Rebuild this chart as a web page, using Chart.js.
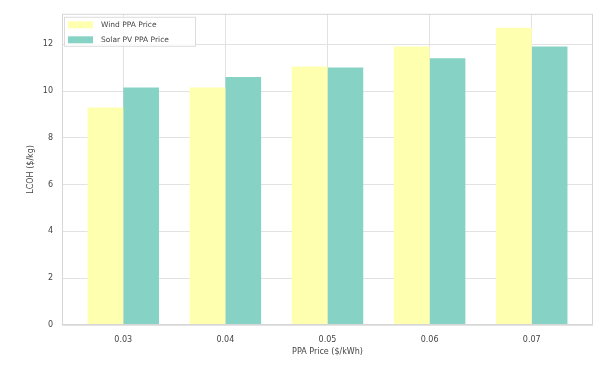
<!DOCTYPE html>
<html>
<head>
<meta charset="utf-8">
<script src="https://cdn.jsdelivr.net/npm/chart.js@4.4.1/dist/chart.umd.min.js"></script>
<style>
html,body{margin:0;padding:0;background:#fff;}
#wrap{width:605px;height:367px;position:relative;}
</style>
</head>
<body>
<div id="wrap"><canvas id="c" width="605" height="367"></canvas></div>
<script>
const categories = ["0.03", "0.04", "0.05", "0.06", "0.07"];
const windValues = [9.3, 10.15, 11.05, 11.9, 12.7];
const solarValues = [10.15, 10.6, 11.0, 11.4, 11.9];
const yTicks = [0, 2, 4, 6, 8, 10, 12];
const seriesNames = ["Wind PPA Price", "Solar PV PPA Price"];

const FONT = "'DejaVu Sans', sans-serif";
const TXT = '#444';

const framePlugin = {
  id: 'frame',
  afterDraw(chart) {
    const {ctx, chartArea: a} = chart;
    ctx.save();
    ctx.strokeStyle = '#d6d6d6';
    ctx.lineWidth = 1;
    ctx.strokeRect(a.left + 0.5, a.top + 0.5, a.right - a.left - 1, a.bottom - a.top - 1);
    // legend (inside plot, upper left)
    const lx = a.left + 2, ly = a.top + 3, lw = 131, lh = 29;
    ctx.fillStyle = 'rgba(255,255,255,0.85)';
    ctx.fillRect(lx, ly, lw, lh);
    ctx.strokeStyle = '#dcdcdc';
    ctx.strokeRect(lx + 0.5, ly + 0.5, lw, lh);
    ctx.font = "7.5px " + FONT;
    ctx.textBaseline = 'middle';
    chart.data.datasets.forEach((ds, i) => {
      const cy = ly + 8 + i * 15;
      ctx.fillStyle = ds.backgroundColor;
      ctx.fillRect(lx + 4, cy - 3.5, 25, 7);
      ctx.fillStyle = TXT;
      ctx.fillText(ds.label, lx + 37, cy);
    });
    ctx.restore();
  }
};

new Chart(document.getElementById('c'), {
  type: 'bar',
  data: {
    datasets: [
      { label: seriesNames[0], data: windValues.map((v, i) => ({x: i, y: v})), backgroundColor: '#ffffb0', borderWidth: 0 },
      { label: seriesNames[1], data: solarValues.map((v, i) => ({x: i, y: v})), backgroundColor: '#86d3c5', borderWidth: 0 }
    ]
  },
  options: {
    responsive: false,
    animation: false,
    layout: { padding: { left: 26, right: 12, top: 12, bottom: 10 } },
    datasets: { bar: { categoryPercentage: 0.7, barPercentage: 1.0 } },
    plugins: {
      tooltip: { enabled: false },
      legend: { display: false }
    },
    scales: {
      x: {
        type: 'linear',
        offset: false,
        min: -0.6, max: 4.6,
        afterBuildTicks(s) { s.ticks = categories.map((c, i) => ({value: i})); },
        afterFit(s) { s.height = 32; },
        ticks: {
          callback: (v) => categories[v] !== undefined ? categories[v] : '',
          font: { family: FONT, size: 8 }, color: TXT, padding: 10, maxRotation: 0
        },
        grid: { color: '#e2e2e2', drawTicks: false, offset: false },
        border: { display: false },
        title: { display: true, text: 'PPA Price ($/kWh)', font: { family: FONT, size: 8 }, color: TXT, padding: { top: 4, bottom: 0 } }
      },
      y: {
        min: 0, max: 13.3,
        afterBuildTicks(s) { s.ticks = yTicks.map(v => ({value: v})); },
        afterFit(s) { s.width = 36; },
        ticks: { font: { family: FONT, size: 8 }, color: TXT, padding: 9 },
        grid: { color: '#e2e2e2', drawTicks: false },
        border: { display: false },
        title: { display: true, text: 'LCOH ($/kg)', font: { family: FONT, size: 8 }, color: TXT, padding: { top: 0, bottom: 4 } }
      }
    }
  },
  plugins: [framePlugin]
});
</script>
</body>
</html>
